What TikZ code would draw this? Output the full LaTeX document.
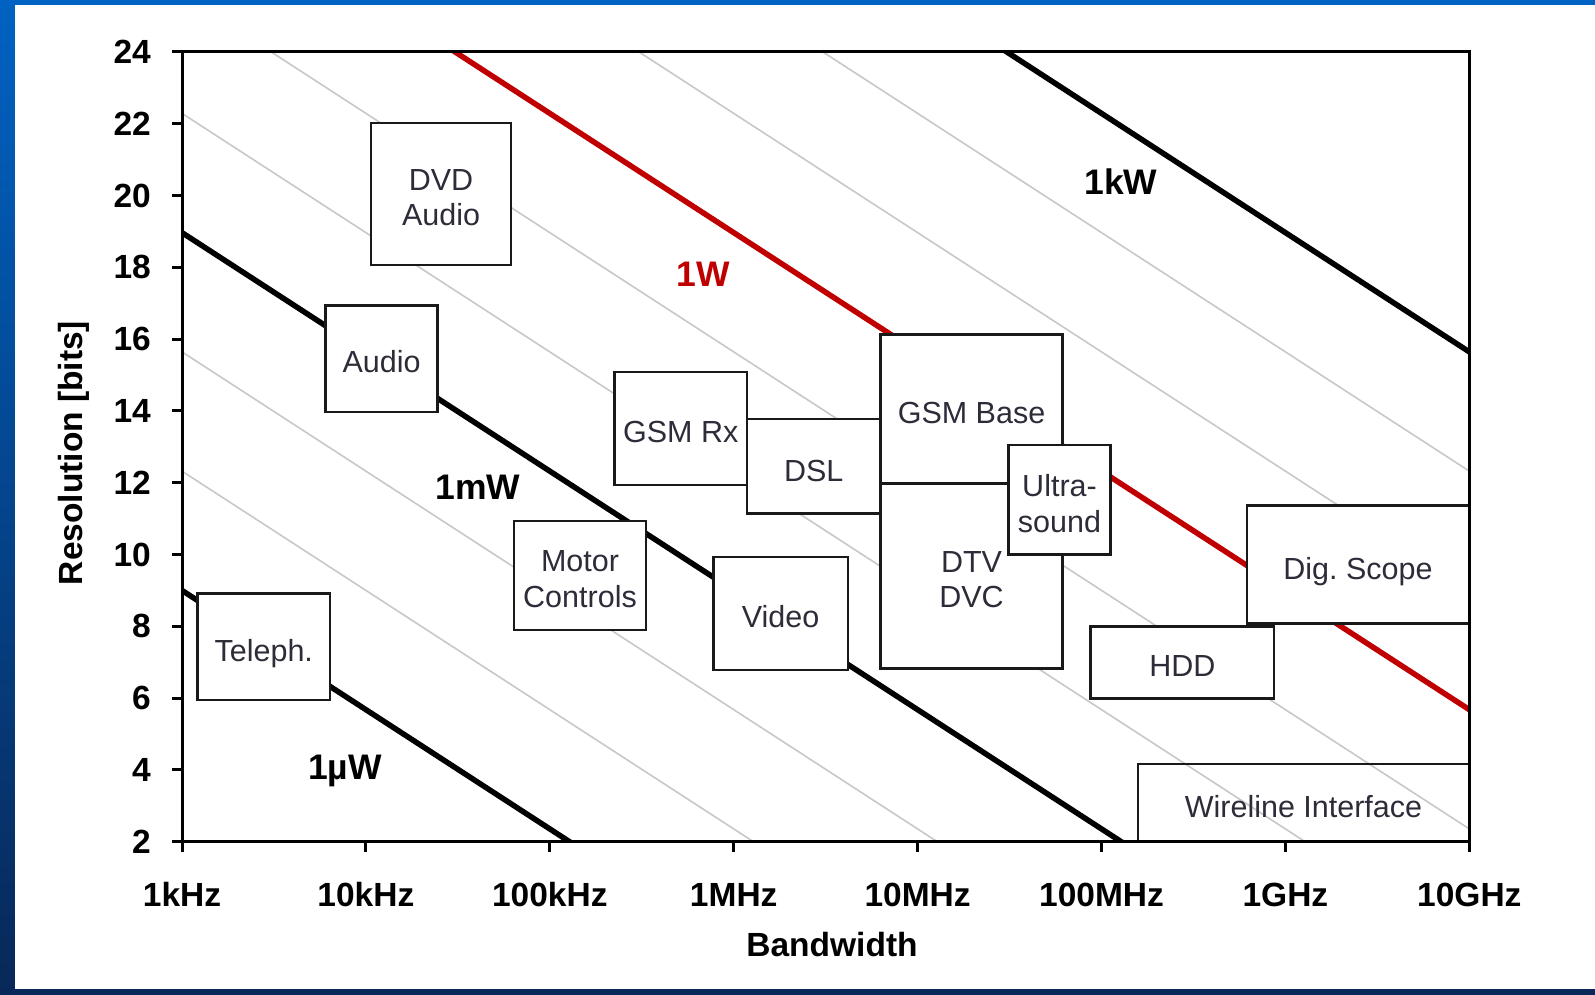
\documentclass[tikz,border=0pt]{standalone}
\usepackage{fontspec}
\setmainfont{Liberation Sans}
\frenchspacing
\definecolor{bluetop}{RGB}{0,98,194}
\definecolor{bluebot}{RGB}{8,40,88}
\definecolor{gridgray}{RGB}{200,200,200}
\definecolor{boxtext}{RGB}{45,45,58}
\definecolor{wred}{RGB}{192,0,0}
\definecolor{boxline}{RGB}{25,25,25}
\begin{document}
\begin{tikzpicture}[x=1pt,y=-1pt,
  appbox/.style={draw=boxline, line width=2.8pt, fill=white, inner sep=0pt},
  openbox/.style={appbox, fill=none},
  boxlabel/.style={inner sep=0pt, text=boxtext, align=center, font=\fontsize{30.5}{35.5}\selectfont, anchor=center},
  nodepth/.style={text depth=0pt},
  gridline/.style={draw=gridgray, line width=1.6pt},
  powerline/.style={line width=5.5pt},
  ticklabel/.style={font=\bfseries\fontsize{33.5}{40}\selectfont, inner sep=0pt},
  powerlabel/.style={font=\bfseries\fontsize{35.5}{42}\selectfont, inner sep=0pt, anchor=base},
]
\useasboundingbox (0,0) rectangle (1595,995);
% slide background
\shade[top color=bluetop, bottom color=bluebot] (0,0) rectangle (1595,995);
\fill[white] (15,5) rectangle (1595,989);

% constant-power lines
\begin{scope}
\clip (182,51.7) rectangle (1469,841.7);
\foreach \p in {1,2,4,5,7,8}
  \draw[gridline] ({182-183.9}, {841.7-35.9*(7+3.3219*(\p+1))}) -- ({182+183.9*8}, {841.7-35.9*(7+3.3219*(\p-8))});
\foreach \p/\c in {0/black,3/black,9/black,6/wred}
  \draw[powerline, draw=\c] ({182-183.9}, {841.7-35.9*(7+3.3219*(\p+1))}) -- ({182+183.9*8}, {841.7-35.9*(7+3.3219*(\p-8))});
\end{scope}

% application boxes
\node[openbox, minimum width=331pt, minimum height=77.7pt] (wire) at (1303.5,802.85) {};
\node[appbox, minimum width=140pt, minimum height=142pt] (dvd) at (441,194) {};
\node[appbox, minimum width=112pt, minimum height=106.5pt] (audio) at (381.5,358.75) {};
\node[appbox, minimum width=132.5pt, minimum height=106.5pt] (teleph) at (263.75,646.75) {};
\node[appbox, minimum width=132pt, minimum height=109pt] (motor) at (580,575.5) {};
\node[appbox, minimum width=132.5pt, minimum height=113pt] (gsmrx) at (680.75,428.5) {};
\node[appbox, minimum width=133.5pt, minimum height=94.5pt] (dsl) at (813.75,466.25) {};
\node[appbox, minimum width=182pt, minimum height=148.6pt] (gsmbase) at (971.5,409) {};
\node[appbox, minimum width=182pt, minimum height=185pt] (dtv) at (971.5,575.8) {};
\node[appbox, minimum width=102.4pt, minimum height=109.3pt] (ultra) at (1059.5,499.65) {};
\node[appbox, minimum width=134.7pt, minimum height=113pt] (video) at (780.65,613.5) {};
\node[appbox, minimum width=222pt, minimum height=118pt] (scope) at (1358,564.5) {};
\node[appbox, minimum width=183.3pt, minimum height=72pt] (hdd) at (1182.35,662.5) {};

% box texts
\node[boxlabel] (wiret) at ([yshift=-3.5pt]wire.center) {Wireline Interface};
\node[boxlabel] (dvdt) at ([yshift=-3.5pt]dvd.center) {DVD\\Audio};
\node[boxlabel] (audiot) at ([yshift=-3pt]audio.center) {Audio};
\node[boxlabel, nodepth] (telepht) at ([yshift=-4pt]teleph.center) {Teleph.};
\node[boxlabel] (motort) at ([yshift=-3.5pt]motor.center) {Motor\\Controls};
\node[boxlabel] (gsmrxt) at ([yshift=-3.5pt]gsmrx.center) {GSM Rx};
\node[boxlabel] (dslt) at ([yshift=-4.5pt]dsl.center) {DSL};
\node[boxlabel] (gsmbaset) at ([yshift=-3.5pt]gsmbase.center) {GSM Base};
\node[boxlabel] (dtvt) at ([yshift=-4pt]dtv.center) {DTV\\DVC};
\node[boxlabel] (ultrat) at ([yshift=-4pt]ultra.center) {Ultra-\\sound};
\node[boxlabel] (videot) at ([yshift=-3pt]video.center) {Video};
\node[boxlabel, nodepth] (scopet) at ([yshift=-4pt]scope.center) {Dig.\ Scope};
\node[boxlabel] (hddt) at ([yshift=-3.5pt]hdd.center) {HDD};

% frame and ticks
\draw[line width=3pt, line join=miter] (172,51.7) -- (1469,51.7) -- (1469,852);
\draw[line width=3pt] (172,841.7) -- (1469,841.7);
\draw[line width=3pt] (182,51.7) -- (182,852);
\foreach \b in {4,6,...,22}
  \draw[line width=3pt] (172,{841.7-35.9*(\b-2)}) -- (182,{841.7-35.9*(\b-2)});
\foreach \d in {1,...,6}
  \draw[line width=3pt] ({182+183.9*\d},841.7) -- ({182+183.9*\d},852);

% tick labels
\foreach \b in {2,4,...,24}
  \node[ticklabel, anchor=east] (yl\b) at (151,{841.7-35.9*(\b-2)}) {\b};
\foreach \d/\t in {0/1kHz,1/10kHz,2/100kHz,3/1MHz,4/10MHz,5/100MHz,6/1GHz,7/10GHz}
  \node[ticklabel] (xl\d) at ({182+183.9*\d},894.5) {\t};
\node[ticklabel] (xtitle) at (832,945) {Bandwidth};
\node[ticklabel, rotate=90] (ytitle) at (73.5,453) {Resolution [bits]};

% power labels
\node[powerlabel] (luw) at (345,779) {1µW};
\node[powerlabel] (lmw) at (478,499) {1mW};
\node[powerlabel, text=wred] (lw) at (703,286.5) {1W};
\node[powerlabel] (lkw) at (1121,195) {1kW};
\end{tikzpicture}
\end{document}
